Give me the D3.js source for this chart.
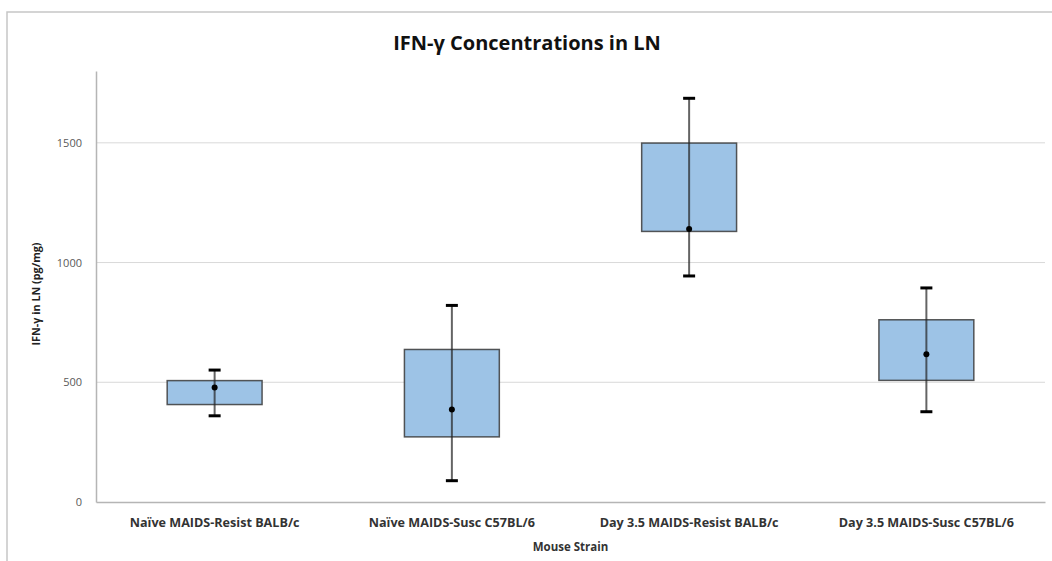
<!DOCTYPE html>
<html>
<head>
<meta charset="utf-8">
<script src="https://cdn.jsdelivr.net/npm/d3@7"></script>
<style>
  html, body { margin: 0; padding: 0; background: #fff; }
  svg { display: block; }
</style>
</head>
<body>
<svg id="chart" width="1052" height="561"></svg>
<script>
const categories = ["Naïve MAIDS-Resist BALB/c", "Naïve MAIDS-Susc C57BL/6", "Day 3.5 MAIDS-Resist BALB/c", "Day 3.5 MAIDS-Susc C57BL/6"];
const boxLow   = [407, 272, 1130, 508];
const boxHigh  = [507, 637, 1499, 761];
const whiskerLow  = [360, 89, 944, 377];
const whiskerHigh = [551, 821, 1686, 894];
const centerValue = [478, 386, 1140, 617];
const yTicks = [0, 500, 1000, 1500];

(function () {
const data = categories.map((c, i) => ({
  cat: c, lo: boxLow[i], hi: boxHigh[i], wlo: whiskerLow[i], whi: whiskerHigh[i], mid: centerValue[i]
}));

const svg = d3.select("#chart");
const mLeft = 96, mRight = 1045, mTop = 71, mBottom = 502;
const font = "'Open Sans', 'Noto Sans', sans-serif";

// outer frame
svg.append("path")
  .attr("d", `M7,561 L7,12 L1052,12`)
  .attr("fill", "none").attr("stroke", "#c6c6c6").attr("stroke-width", 1.5);

const x = d3.scaleBand().domain(categories).range([mLeft, mRight]);
const y = d3.scaleLinear().domain([0, 1800]).range([mBottom, mTop]);

// gridlines
svg.append("g").selectAll("line").data(yTicks.filter(t => t > 0)).join("line")
  .attr("x1", mLeft).attr("x2", mRight)
  .attr("y1", d => y(d)).attr("y2", d => y(d))
  .attr("stroke", "#d9d9d9").attr("stroke-width", 1);

// y axis
const yAxis = svg.append("g").attr("transform", `translate(${mLeft},0)`)
  .call(d3.axisLeft(y).tickValues(yTicks).tickSize(0).tickPadding(14).tickFormat(d3.format("d")));
yAxis.select(".domain").attr("stroke", "#b5b5b5").attr("stroke-width", 1.5);
yAxis.selectAll("text").attr("font-family", font).attr("font-size", 11).attr("fill", "#595959");

// x axis
const xAxis = svg.append("g").attr("transform", `translate(0,${mBottom})`)
  .call(d3.axisBottom(x).tickSize(0).tickPadding(16));
xAxis.select(".domain").attr("stroke", "#b5b5b5").attr("stroke-width", 1.5);
xAxis.selectAll("text").attr("font-family", font).attr("font-size", 12.6)
  .attr("font-weight", "bold").attr("fill", "#333");

const bw = x.bandwidth() * 0.4;
const g = svg.append("g");

// boxes
g.selectAll("rect.box").data(data).join("rect")
  .attr("class", "box")
  .attr("x", d => x(d.cat) + x.bandwidth() / 2 - bw / 2)
  .attr("width", bw)
  .attr("y", d => y(d.hi))
  .attr("height", d => y(d.lo) - y(d.hi))
  .attr("fill", "#9dc3e6")
  .attr("stroke", "#3a3a3a").attr("stroke-opacity", 0.85).attr("stroke-width", 1.5);

// whiskers
g.selectAll("line.whisker").data(data).join("line")
  .attr("class", "whisker")
  .attr("x1", d => x(d.cat) + x.bandwidth() / 2)
  .attr("x2", d => x(d.cat) + x.bandwidth() / 2)
  .attr("y1", d => y(d.whi)).attr("y2", d => y(d.wlo))
  .attr("stroke", "#222").attr("stroke-opacity", 0.7).attr("stroke-width", 2);

// caps
["whi", "wlo"].forEach(k => {
  g.selectAll("line.cap-" + k).data(data).join("line")
    .attr("class", "cap-" + k)
    .attr("x1", d => x(d.cat) + x.bandwidth() / 2 - 6)
    .attr("x2", d => x(d.cat) + x.bandwidth() / 2 + 6)
    .attr("y1", d => y(d[k])).attr("y2", d => y(d[k]))
    .attr("stroke", "#000").attr("stroke-width", 3);
});

// center dots
g.selectAll("circle").data(data).join("circle")
  .attr("cx", d => x(d.cat) + x.bandwidth() / 2)
  .attr("cy", d => y(d.mid))
  .attr("r", 3).attr("fill", "#000");

// title
svg.append("text").attr("x", 527).attr("y", 50).attr("text-anchor", "middle")
  .attr("font-family", font).attr("font-size", 20).attr("font-weight", "bold")
  .attr("fill", "#111").text("IFN-γ Concentrations in LN");

// y axis title
svg.append("text").attr("transform", `translate(40,294) rotate(-90)`)
  .attr("text-anchor", "middle")
  .attr("font-family", font).attr("font-size", 10.8).attr("font-weight", "bold")
  .attr("fill", "#222").text("IFN-γ in LN (pg/mg)");

// x axis title
svg.append("text").attr("x", (mLeft + mRight) / 2).attr("y", 551).attr("text-anchor", "middle")
  .attr("font-family", font).attr("font-size", 11.5).attr("font-weight", "bold")
  .attr("fill", "#333").text("Mouse Strain");
})();
</script>
</body>
</html>
